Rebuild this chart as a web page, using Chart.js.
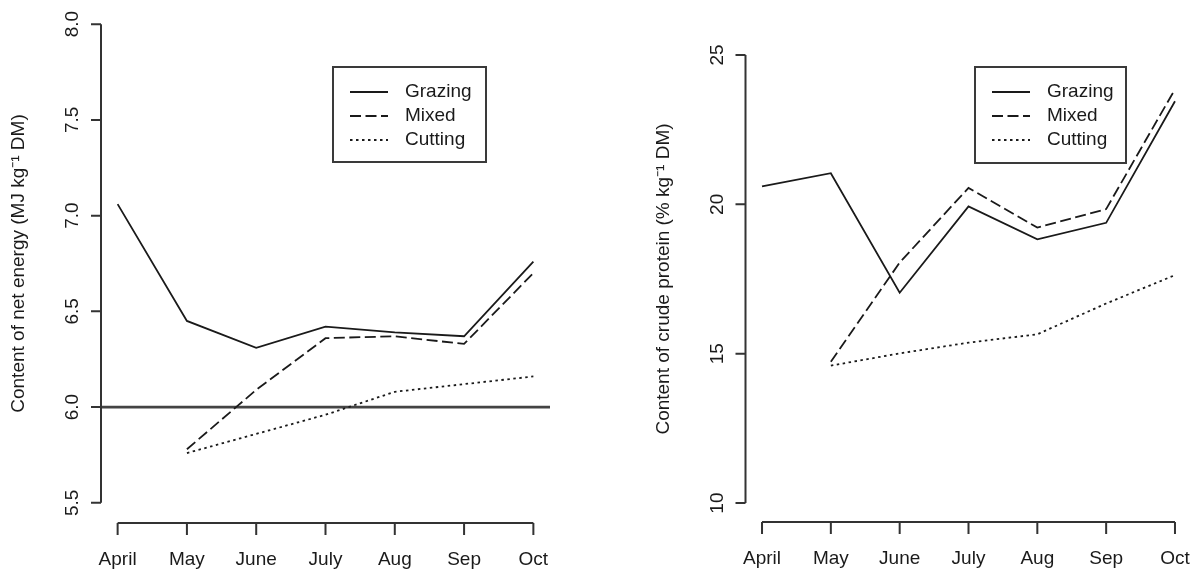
<!DOCTYPE html>
<html><head><meta charset="utf-8">
<script src="https://cdn.jsdelivr.net/npm/chart.js@4/dist/chart.umd.min.js"></script>
<style>
html,body{margin:0;padding:0;background:#fff;overflow:hidden}
#w{position:relative;width:1195px;height:573px;background:#fff}
.p{position:absolute;top:0}
</style></head>
<body><div id="w">
<div class="p" style="left:0;width:597px;height:573px"><canvas id="a" width="597" height="573"></canvas></div>
<div class="p" style="left:597px;width:598px;height:573px"><canvas id="b" width="598" height="573"></canvas></div>
</div>
<script>
// ---- data ----
const months = ["April","May","June","July","Aug","Sep","Oct"];
const seriesNames = ["Grazing","Mixed","Cutting"];
const energyGrazing = [7.06,6.45,6.31,6.42,6.39,6.37,6.76];
const energyMixed   = [null,5.78,6.09,6.36,6.37,6.33,6.70];
const energyCutting = [null,5.76,5.86,5.96,6.08,6.12,6.16];
const proteinGrazing = [20.6,21.04,17.04,19.93,18.83,19.38,23.45];
const proteinMixed   = [null,14.73,18.05,20.55,19.22,19.84,23.85];
const proteinCutting = [null,14.6,15.01,15.37,15.65,16.68,17.63];
const energyTicks = [5.5,6.0,6.5,7.0,7.5,8.0];
const proteinTicks = [10,15,20,25];
const energyRef = 6.0;
const energyTitle = "Content of net energy (MJ kg\u207B\u00B9 DM)";
const proteinTitle = "Content of crude protein (% kg\u207B\u00B9 DM)";

// ---- styling ----
const FONT = '19px "Liberation Sans", Arial, sans-serif';
const INK = '#1a1a1a';
const styles = [
  {dash: []},
  {dash: [11, 4.5]},
  {dash: [2.5, 3.5]}
];

function pts(arr){ return arr.map((v,i)=>({x:i,y:v})).filter(p=>p.y!==null); }

function rAxes(cfg){
  return {
    id:'rAxes',
    beforeDatasetsDraw(chart){
      const ctx = chart.ctx, ys = chart.scales.y, ca = chart.chartArea;
      if (cfg.ref !== undefined){
        ctx.save();
        ctx.strokeStyle = '#444'; ctx.lineWidth = 2.6;
        const y = ys.getPixelForValue(cfg.ref);
        ctx.beginPath(); ctx.moveTo(ca.left, y); ctx.lineTo(ca.right, y); ctx.stroke();
        ctx.restore();
      }
    },
    afterDraw(chart){
      const ctx = chart.ctx, xs = chart.scales.x, ys = chart.scales.y, ca = chart.chartArea;
      ctx.save();
      ctx.strokeStyle = '#333'; ctx.lineWidth = 2; ctx.fillStyle = INK;
      ctx.font = FONT;
      // x axis
      const xa = ca.bottom + 1;
      const x0 = xs.getPixelForValue(0), x1 = xs.getPixelForValue(months.length-1);
      ctx.beginPath(); ctx.moveTo(x0, xa); ctx.lineTo(x1, xa);
      months.forEach((m,i)=>{ const x = xs.getPixelForValue(i); ctx.moveTo(x, xa); ctx.lineTo(x, xa+12); });
      ctx.stroke();
      ctx.textAlign='center'; ctx.textBaseline='middle';
      months.forEach((m,i)=>{ ctx.fillText(m, xs.getPixelForValue(i), xa+37); });
      // y axis
      const yl = ca.left;
      const t = cfg.ticks;
      ctx.beginPath(); ctx.moveTo(yl, ys.getPixelForValue(t[0])); ctx.lineTo(yl, ys.getPixelForValue(t[t.length-1]));
      t.forEach(v=>{ const y = ys.getPixelForValue(v); ctx.moveTo(yl, y); ctx.lineTo(yl-10, y); });
      ctx.stroke();
      t.forEach(v=>{
        const y = ys.getPixelForValue(v);
        ctx.save(); ctx.translate(yl-28, y); ctx.rotate(-Math.PI/2);
        ctx.fillText(cfg.fmt(v), 0, 0); ctx.restore();
      });
      // title
      ctx.save(); ctx.translate(yl-82, (ca.top+ca.bottom)/2); ctx.rotate(-Math.PI/2);
      ctx.fillText(cfg.title, 0, 0); ctx.restore();
      // legend
      const L = cfg.legend;
      ctx.strokeStyle = '#3a3a3a'; ctx.lineWidth = 2;
      ctx.strokeRect(L.x, L.y, L.w, L.h);
      seriesNames.forEach((n,i)=>{
        const y = L.y + 25 + i*24;
        ctx.save();
        ctx.strokeStyle = INK; ctx.lineWidth = 1.8; ctx.setLineDash(styles[i].dash);
        ctx.beginPath(); ctx.moveTo(L.x+17, y); ctx.lineTo(L.x+55, y); ctx.stroke();
        ctx.restore();
        ctx.textAlign='left';
        ctx.fillText(n, L.x+72, y);
      });
      ctx.restore();
    }
  };
}

function makeChart(id, series, ymin, ymax, pad, cfg){
  const datasets = series.map((s,i)=>({
    label: seriesNames[i], data: pts(s), borderColor: INK, borderWidth: 1.8,
    borderDash: styles[i].dash, pointRadius: 0, fill:false, tension:0
  }));
  return new Chart(document.getElementById(id), {
    type:'line',
    data:{datasets},
    options:{
      responsive:false, animation:false, devicePixelRatio:1,
      layout:{padding:pad},
      plugins:{legend:{display:false}, tooltip:{enabled:false}},
      scales:{
        x:{type:'linear', min:-0.24, max:(months.length-1)+0.24, display:false},
        y:{type:'linear', min:ymin, max:ymax, display:false}
      }
    },
    plugins:[rAxes(cfg)]
  });
}

const eRange = energyTicks[energyTicks.length-1]-energyTicks[0];
makeChart('a', [energyGrazing, energyMixed, energyCutting],
  energyTicks[0]-0.04*eRange, energyTicks[energyTicks.length-1]+0.04*eRange,
  {left:101, right:47, top:5, bottom:51},
  {ticks: energyTicks, fmt: v=>v.toFixed(1), title: energyTitle, ref: energyRef,
   legend:{x:333, y:67, w:153, h:95}});

const pRange = proteinTicks[proteinTicks.length-1]-proteinTicks[0];
makeChart('b', [proteinGrazing, proteinMixed, proteinCutting],
  proteinTicks[0]-0.04*pRange, proteinTicks[proteinTicks.length-1]+0.04*pRange,
  {left:148.5, right:3.5, top:37, bottom:52},
  {ticks: proteinTicks, fmt: v=>String(v), title: proteinTitle,
   legend:{x:378, y:67, w:151, h:96}});
</script>
</body></html>
